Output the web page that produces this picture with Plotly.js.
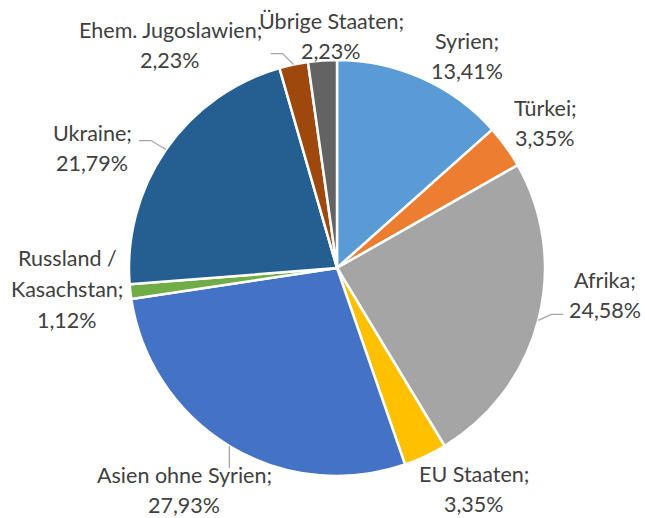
<!DOCTYPE html>
<html>
<head>
<meta charset="utf-8">
<script src="https://cdn.plot.ly/plotly-3.0.1.min.js"></script>
<style>html,body{margin:0;padding:0;background:#fff;}#chart{width:645px;height:518px;}</style>
</head>
<body>
<div id="chart"></div>
<script>
const labels = ["Syrien", "Türkei", "Afrika", "EU Staaten", "Asien ohne Syrien", "Russland / Kasachstan", "Ukraine", "Ehem. Jugoslawien", "Übrige Staaten"];
const values = [13.41, 3.35, 24.58, 3.35, 27.93, 1.12, 21.79, 2.23, 2.23];
const colors = ["#5B9BD5", "#ED7D31", "#A5A5A5", "#FFC000", "#4472C4", "#70AD47", "#255E91", "#9E480E", "#636363"];

// layout: pie geometry in pixels
const W = 645, H = 518;
const CX = 337, CY = 268, R = 208;

// label placement (pixel x center, first line y center)
const labelPos = [[467, 41], [545, 108], [605, 280], [474, 474], [184, 475], [67, 258], [92, 133], [170, 30], [331, 21]];
const lineGap = 30;
// leader lines: elbow offsets relative to slice edge point [dx1, dy1, dx2, dy2]
const leaders = {2: [13, -6, 25, -6], 4: [0, 22, 0, 22], 6: [-15, -9, -27, -9], 7: [-11, -11, -23, -11]};

const total = values.reduce((a, b) => a + b, 0);
const fmt = v => v.toFixed(2).replace(".", ",") + "%";
const px = x => x / W, py = y => 1 - y / H;

const annotations = [];
labels.forEach((lab, i) => {
  let lines;
  if (lab.indexOf(" / ") >= 0) {
    const parts = lab.split(" / ");
    lines = [parts[0] + " /", parts[1] + ";", fmt(values[i])];
  } else {
    lines = [lab + ";", fmt(values[i])];
  }
  lines.forEach((t, k) => {
    annotations.push({
      text: t, x: px(labelPos[i][0]), y: py(labelPos[i][1] + k * (lines.length > 2 ? 31 : lineGap)),
      xref: "paper", yref: "paper", xanchor: "center", yanchor: "middle", showarrow: false,
      borderpad: 0,
      font: {family: "Lato, 'Open Sans', sans-serif", size: 21.5, color: "#404040"}
    });
  });
});

// leader line shapes from slice mid angles
const shapes = [];
let cum = 0;
values.forEach((v, i) => {
  const mid = (cum + v / 2) / total * 2 * Math.PI;
  cum += v;
  if (leaders[i]) {
    const ex = CX + R * Math.sin(mid), ey = CY - R * Math.cos(mid);
    const o = leaders[i];
    const path = `M ${px(ex)} ${py(ey)} L ${px(ex + o[0])} ${py(ey + o[1])} L ${px(ex + o[2])} ${py(ey + o[3])}`;
    shapes.push({type: "path", xref: "paper", yref: "paper", path: path, line: {color: "#A6A6A6", width: 1.3}});
  }
});

const trace = {
  type: "pie",
  labels: labels,
  values: values,
  sort: false,
  direction: "clockwise",
  rotation: 0,
  textinfo: "none",
  hoverinfo: "label+percent",
  marker: {colors: colors, line: {color: "#FFFFFF", width: 2.5}},
  domain: {x: [(CX - R) / W, (CX + R) / W], y: [(H - CY - R) / H, (H - CY + R) / H]},
  showlegend: false
};

Plotly.newPlot("chart", [trace], {
  width: W, height: H,
  margin: {l: 0, r: 0, t: 0, b: 0},
  paper_bgcolor: "#FFFFFF",
  annotations: annotations,
  shapes: shapes,
  showlegend: false
}, {displayModeBar: false, staticPlot: true});
</script>
</body>
</html>
